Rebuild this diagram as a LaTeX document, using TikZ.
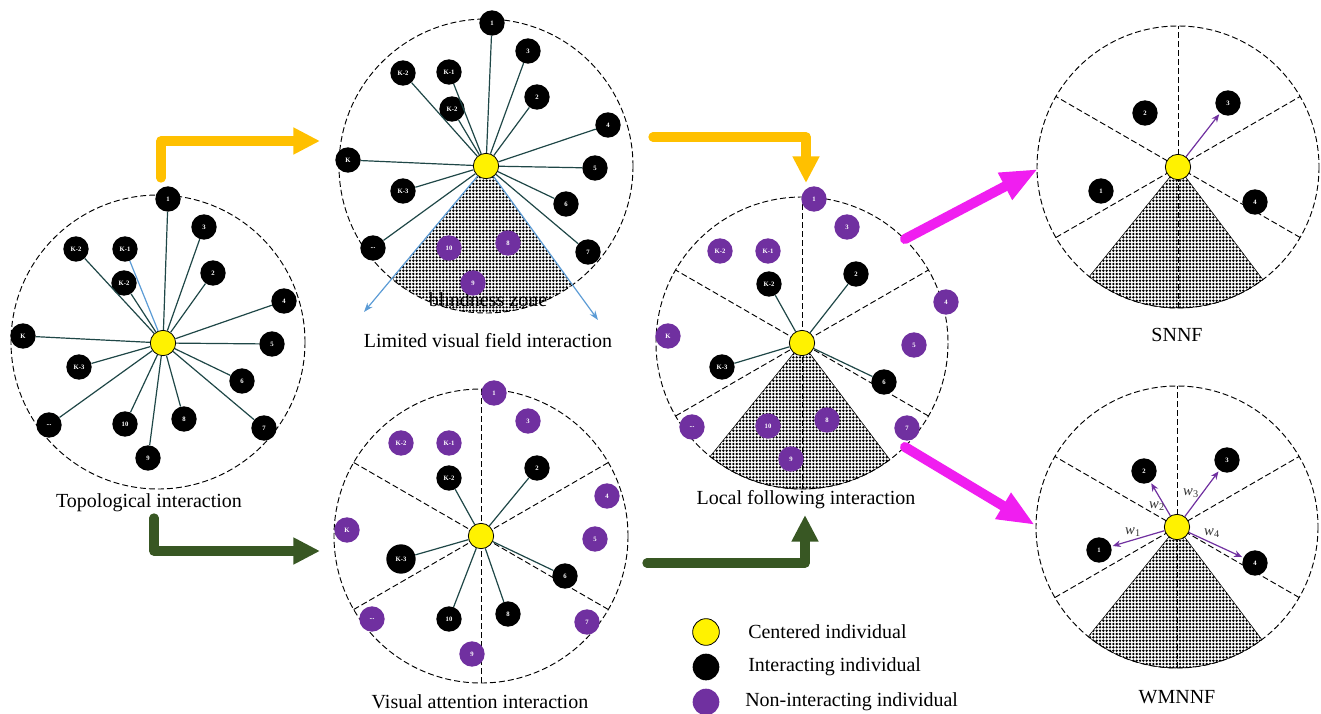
\documentclass[tikz,border=0pt]{standalone}
\usepackage{fontspec}
\setmainfont{Liberation Serif}
\usepackage{xcolor}
\usepackage{tikz}
\usetikzlibrary{arrows.meta}
\usetikzlibrary{patterns}

\definecolor{linkteal}{HTML}{1F4747}
\definecolor{idlepurple}{HTML}{7030A0}
\definecolor{fovblue}{HTML}{5B9BD5}
\definecolor{stepgold}{HTML}{FFC000}
\definecolor{stepgreen}{HTML}{385723}
\definecolor{stepmagenta}{HTML}{F01EF0}

\pgfdeclarepatternformonly{zonedots}{\pgfqpoint{-1.2pt}{-1.2pt}}{\pgfqpoint{1.2pt}{1.2pt}}{\pgfqpoint{2.5pt}{2.5pt}}%
  {\pgfpathcircle{\pgfpointorigin}{1pt}\pgfusepath{fill}}

\begin{document}
\begin{tikzpicture}[x=0.75pt, y=-0.75pt,
    ringline/.style={dash pattern=on 4.5pt off 2.25pt, line width=0.7pt},
    zone/.style={pattern=zonedots, pattern color=black},
    hub/.style={circle, draw=black, line width=0.6pt, fill=yellow, minimum size=19pt, inner sep=0pt},
    agent/.style={circle, fill=black, text=white, minimum size=19pt, inner sep=0pt,
        font=\fontsize{5}{6}\selectfont\bfseries},
    idle/.style={agent, fill=idlepurple},
    link/.style={draw=linkteal, line width=0.9pt},
    follow/.style={draw=idlepurple, line width=0.9pt, shorten >=1pt, -{Stealth[length=6pt, width=5pt]}},
    bigarrow/.style={line width=7pt, line cap=round, line join=round, -{Triangle[length=20pt, width=19pt]}},
    captext/.style={font=\fontsize{15}{18}\selectfont, inner sep=0pt},
  ]
  \useasboundingbox (0,0) rectangle (1321,714);

  % Topological interaction
  \coordinate (tc) at (163,343);
  \draw[ringline] (158,342) circle[radius=147];
  \node[hub] (t0) at (tc) {};
  \node[agent] (t1) at (168,199) {1};
  \node[agent] (t3) at (204,227) {3};
  \node[agent] (tK2a) at (76,249) {K-2};
  \node[agent] (tK1) at (125,249) {K-1};
  \node[agent] (t2) at (213,273) {2};
  \node[agent] (tK2b) at (124,283) {K-2};
  \node[agent] (t4) at (284,301) {4};
  \node[agent] (tK) at (23,336) {K};
  \node[agent] (t5) at (272,344) {5};
  \node[agent] (tK3) at (79,367) {K-3};
  \node[agent] (t6) at (242,381) {6};
  \node[agent] (tdots) at (49,425) {...};
  \node[agent] (t10) at (125,424) {10};
  \node[agent] (t8) at (184,419) {8};
  \node[agent] (t7) at (264,428) {7};
  \node[agent] (t9) at (148,458) {9};
  \foreach \n in {t1,t3,tK2a,tK2b,t2,t4,tK,t5,tK3,t6,tdots,t10,t8,t7,t9}
    \draw[link] (t0) -- (\n);
  \draw[link, draw=fovblue] (t0) -- (tK1);
  \node[captext] (tcap) at (149,503) {Topological interaction};

  % Limited visual field interaction
  \coordinate (vc) at (486,166);
  \draw[ringline] (vc) circle[radius=147];
  \fill[zone] (vc) -- ++(54:147) arc[start angle=54, end angle=130, radius=147] -- cycle;
  \node[captext] (vzone) at (488,300) {blindness zone};
  \node[hub] (v0) at (vc) {};
  \node[agent] (v1) at (492,23) {1};
  \node[agent] (v3) at (528,51) {3};
  \node[agent] (vK2a) at (403,73) {K-2};
  \node[agent] (vK1) at (449,72) {K-1};
  \node[agent] (v2) at (537,97) {2};
  \node[agent] (vK2b) at (452,109) {K-2};
  \node[agent] (v4) at (608,125) {4};
  \node[agent] (vK) at (348,160) {K};
  \node[agent] (v5) at (595,168) {5};
  \node[agent] (vK3) at (403,191) {K-3};
  \node[agent] (v6) at (566,204) {6};
  \node[agent] (vdots) at (373,248) {...};
  \node[idle] (v10) at (449,248) {10};
  \node[idle] (v8) at (508,243) {8};
  \node[agent] (v7) at (588,252) {7};
  \node[idle] (v9) at (473,283) {9};
  \foreach \n in {v1,v3,vK2a,vK1,v2,vK2b,v4,vK,v5,vK3,v6,vdots,v7}
    \draw[link] (v0) -- (\n);
  \coordinate (vL) at (364,312);
  \coordinate (vR) at (598,320);
  \draw[fovblue, line width=0.9pt, -{Stealth[length=7pt, width=5pt]}] (v0) -- (vL);
  \draw[fovblue, line width=0.9pt, -{Stealth[length=7pt, width=5pt]}] (v0) -- (vR);
  \node[captext] (vcap) at (488,341) {Limited visual field interaction};

  % Visual attention interaction
  \coordinate (ac) at (481,536);
  \draw[ringline] (ac) circle[radius=147];
  \foreach \a in {30,90,150}
    \draw[ringline] (ac) ++(\a:147) -- ++(\a+180:294);
  \node[hub] (a0) at (ac) {};
  \node[idle] (a1) at (494,393) {1};
  \node[idle] (a3) at (528,421) {3};
  \node[idle] (aK2a) at (401,443) {K-2};
  \node[idle] (aK1) at (449,443) {K-1};
  \node[agent] (aK2b) at (449,478) {K-2};
  \node[agent] (a2) at (537,468) {2};
  \node[idle] (a4) at (607,496) {4};
  \node[idle] (aK) at (347,530) {K};
  \node[idle] (a5) at (595,539) {5};
  \node[agent, minimum size=22pt] (aK3) at (401,559) {K-3};
  \node[agent] (a6) at (565,576) {6};
  \node[idle] (adots) at (372,619) {...};
  \node[agent] (a10) at (449,619) {10};
  \node[agent] (a8) at (508,614) {8};
  \node[idle] (a7) at (587,622) {7};
  \node[idle] (a9) at (472,654) {9};
  \foreach \n in {aK2b,a2,aK3,a6,a10,a8}
    \draw[link] (a0) -- (\n);
  \node[captext] (acap) at (480,702) {Visual attention interaction};

  % Local following interaction
  \coordinate (lc) at (802,343);
  \draw[ringline] (lc) circle[radius=146];
  \filldraw[zone, draw=black, line width=0.4pt] (lc) -- ++(53:146) arc[start angle=53, end angle=129, radius=146] -- cycle;
  \foreach \a in {30,90,150}
    \draw[ringline] (lc) ++(\a:146) -- ++(\a+180:292);
  \node[hub] (l0) at (lc) {};
  \node[idle] (l1) at (814,199) {1};
  \node[idle] (l3) at (847,227) {3};
  \node[idle] (lK2a) at (720,251) {K-2};
  \node[idle] (lK1) at (768,251) {K-1};
  \node[agent] (lK2b) at (769,284) {K-2};
  \node[agent] (l2) at (856,274) {2};
  \node[idle] (l4) at (946,302) {4};
  \node[idle] (lK) at (668,336) {K};
  \node[idle] (l5) at (914,345) {5};
  \node[agent] (lK3) at (722,367) {K-3};
  \node[agent] (l6) at (884,382) {6};
  \node[idle] (ldots) at (692,427) {...};
  \node[idle] (l10) at (768,426) {10};
  \node[idle] (l8) at (827,420) {8};
  \node[idle] (l7) at (907,428) {7};
  \node[idle] (l9) at (791,459) {9};
  \foreach \n in {lK2b,l2,lK3,l6}
    \draw[link] (l0) -- (\n);
  \node[captext] (lcap) at (806,500) {Local following interaction};

  % SNNF
  \coordinate (sc) at (1178,167);
  \draw[ringline] (sc) circle[radius=141];
  \filldraw[zone, draw=black, line width=0.4pt] (sc) -- ++(53:141) arc[start angle=53, end angle=129, radius=141] -- cycle;
  \foreach \a in {30,90,150}
    \draw[ringline] (sc) ++(\a:141) -- ++(\a+180:282);
  \node[hub] (s0) at (sc) {};
  \node[agent] (s2) at (1145,113) {2};
  \node[agent] (s3) at (1228,103) {3};
  \node[agent] (s1) at (1101,191) {1};
  \node[agent] (s4) at (1255,202) {4};
  \draw[follow] (s0) -- (s3);
  \node[captext] (scap) at (1177,335) {SNNF};

  % WMNNF
  \coordinate (mc) at (1177,527);
  \draw[ringline] (mc) circle[radius=141];
  \filldraw[zone, draw=black, line width=0.4pt] (mc) -- ++(53:141) arc[start angle=53, end angle=129, radius=141] -- cycle;
  \foreach \a in {30,90,150}
    \draw[ringline] (mc) ++(\a:141) -- ++(\a+180:282);
  \node[hub] (m0) at (mc) {};
  \node[agent] (m2) at (1144,471) {2};
  \node[agent] (m3) at (1227,460) {3};
  \node[agent] (m1) at (1099,550) {1};
  \node[agent] (m4) at (1255,563) {4};
  \foreach \n in {m1,m2,m3,m4}
    \draw[follow] (m0) -- (\n);
  \node[font=\fontsize{11}{12}\selectfont, text=black!80] (mw1) at (1133,532) {\textit{w}\textsubscript{1}};
  \node[font=\fontsize{11}{12}\selectfont, text=black!80] (mw2) at (1157,506) {\textit{w}\textsubscript{2}};
  \node[font=\fontsize{11}{12}\selectfont, text=black!80] (mw3) at (1191,493) {\textit{w}\textsubscript{3}};
  \node[font=\fontsize{11}{12}\selectfont, text=black!80] (mw4) at (1212,533) {\textit{w}\textsubscript{4}};
  \node[captext] (mcap) at (1177,697) {WMNNF};

  % steps between the panels
  \coordinate (g1a) at (161,178);
  \coordinate (g1b) at (320,141);
  \draw[bigarrow, stepgold] (g1a) |- (g1b);
  \coordinate (g2a) at (653,137);
  \coordinate (g2b) at (806,183);
  \draw[bigarrow, stepgold] (g2a) -| (g2b);
  \coordinate (h1a) at (154,518);
  \coordinate (h1b) at (320,551);
  \draw[bigarrow, stepgreen] (h1a) |- (h1b);
  \coordinate (h2a) at (647,563);
  \coordinate (h2b) at (805,515);
  \draw[bigarrow, stepgreen] (h2a) -| (h2b);
  \coordinate (k1a) at (905,239);
  \coordinate (k1b) at (1038,169);
  \draw[bigarrow, stepmagenta, line width=7.5pt, -{Triangle[length=28pt, width=21pt]}] (k1a) -- (k1b);
  \coordinate (k2a) at (905,447);
  \coordinate (k2b) at (1035,525);
  \draw[bigarrow, stepmagenta, line width=7.5pt, -{Triangle[length=28pt, width=21pt]}] (k2a) -- (k2b);

  % legend
  \node[hub, minimum size=20pt] (leg1) at (706,632) {};
  \node[agent, minimum size=20pt] (leg2) at (706,667) {};
  \node[idle, minimum size=20pt] (leg3) at (706,702) {};
  \node[captext, anchor=west] (legt1) at (748,632) {Centered individual};
  \node[captext, anchor=west] (legt2) at (748,667) {Interacting individual};
  \node[captext, anchor=west] (legt3) at (745,702) {Non-interacting individual};
\end{tikzpicture}
\end{document}
